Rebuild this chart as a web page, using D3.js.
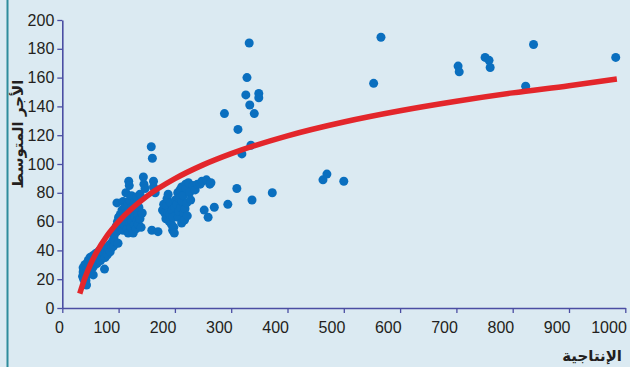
<!DOCTYPE html>
<html>
<head>
<meta charset="utf-8">
<script src="https://cdn.jsdelivr.net/npm/d3@7"></script>
<style>
  html, body { margin: 0; padding: 0; background: #dbeaf2; }
  svg { display: block; }
</style>
</head>
<body>
<svg id="chart" width="630" height="367"></svg>
<script>
// productivity vs average wage
const lowBand = [
  [36,22],[37,25],[37,28],[38,20],[39,24],[40,27],[40,30],[41,22],[42,19],[43,16],[43,25],[44,28],
  [44,31],[45,23],[46,26],[46,33],[47,29],[48,24],[48,31],[49,35],[50,27],[51,30],[52,33],[53,36],
  [54,28],[55,23],[55,31],[56,34],[57,37],[58,30],[59,33],[60,38],[61,35],[62,31],[63,36],[64,39],
  [65,34],[66,37],[67,40],[68,33],[70,36],[71,39],[72,42],[74,38],[75,27],[76,35],[77,40],[79,42],
  [80,37],[82,41],[84,44],[85,39],[87,45],[88,42],[90,47],[91,43],[92,50],[93,52],[94,46],[95,55],
  [96,57],[97,53],[98,60],[99,45],[100,58],[100,63],[97,73]
];
const midBand = [
  [102,61],[103,65],[104,56],[105,59],[106,68],[107,62],[108,54],[108,74],[109,66],[110,58],[111,70],
  [112,63],[113,60],[113,80],[114,66],[115,55],[116,72],[117,52],[117,62],[118,88],[118,67],[119,85],
  [120,59],[120,75],[121,64],[122,56],[123,70],[123,78],[124,60],[126,52],[126,66],[127,73],[128,58],
  [129,63],[130,68],[131,55],[132,77],[133,61],[134,65],[135,58],[136,70],[138,79],[138,62],[140,56],
  [142,66],[144,91],[145,86],[147,83],[159,54],[162,88],[162,84],[165,80],[170,53]
];
const highBand = [
  [178,68],[180,72],[182,66],[184,62],[185,71],[186,76],[188,79],[188,66],[190,60],[191,65],[192,73],
  [194,58],[195,68],[196,54],[197,63],[198,56],[199,52],[200,70],[201,75],[203,72],[205,80],[206,63],
  [207,67],[208,76],[209,82],[210,70],[212,84],[212,59],[213,74],[215,78],[216,66],[217,61],[218,69],
  [219,86],[220,83],[221,73],[222,64],[224,87],[226,80],[228,75],[232,85],[236,82],[240,86],
  [245,86],[248,88],[252,68],[256,89],[259,63],[262,86],[264,87],[270,70],[294,72],[310,83],
  [337,75],[373,80]
];
const outliers = [
  [158,112],[160,104],[288,135],[312,124],[319,107],[326,148],[328,160],[332,184],[333,141],
  [335,113],[341,135],[349,149],[349,146],[463,89],[470,93],[500,88],[553,156],[566,188],
  [703,168],[705,164],[751,174],[758,172],[760,167],[823,154],[837,183],[983,174]
];

// fitted trend line
const trendX = [31, 40, 50, 60, 80, 100, 150, 200, 250, 300, 400, 500, 600, 700, 800, 900, 985];
const trendY = [10, 20.7, 30.3, 38.1, 50.5, 60, 77.5, 89.8, 99.4, 107.2, 119.6, 129.2, 137, 143.6, 149.4, 154.4, 159];

const xTicks = [0, 100, 200, 300, 400, 500, 600, 700, 800, 900, 1000];
const yTicks = [0, 20, 40, 60, 80, 100, 120, 140, 160, 180, 200];

const xTitle = "الإنتاجية";
const yTitle = "الأجر المتوسط";

const axisColor = "#4b4ea3";
const dotColor = "#0a6fbf";
const trendColor = "#e3262b";
const tickFont = "'Liberation Sans Narrow', 'Liberation Sans', sans-serif";

function draw() {
    const svg = d3.select("#chart");

    svg.append("rect")
        .attr("width", 630)
        .attr("height", 367)
        .attr("fill", "#dbeaf2");

    // frame line on the left
    svg.append("line")
        .attr("x1", 7.5).attr("x2", 7.5)
        .attr("y1", 0).attr("y2", 367)
        .attr("stroke", "#2f8c9c")
        .attr("stroke-width", 2);

    const x = d3.scaleLinear().domain([0, 1000]).range([62.3, 625.3]);
    const y = d3.scaleLinear().domain([0, 200]).range([308, 20]);

    // axes
    const xAxis = svg.append("g")
        .attr("transform", "translate(0,308)")
        .call(d3.axisBottom(x).tickValues(xTicks).tickSize(5).tickSizeOuter(0).tickFormat(d3.format("d")));

    const yAxis = svg.append("g")
        .attr("transform", "translate(62.3,0)")
        .call(d3.axisLeft(y).tickValues(yTicks).tickSize(5).tickSizeOuter(0).tickFormat(d3.format("d")));

    [xAxis, yAxis].forEach(function (g) {
        g.select(".domain").attr("stroke", axisColor).attr("stroke-width", 1.6);
        g.selectAll(".tick line").attr("stroke", axisColor).attr("stroke-width", 1.3);
        g.selectAll(".tick text")
            .attr("fill", "#231f20")
            .style("font-family", tickFont)
            .style("font-size", "16px");
    });

    // x labels sit to the left of their tick
    xAxis.selectAll(".tick text")
        .attr("text-anchor", "end")
        .attr("x", 1)
        .attr("y", 14)
        .attr("dy", "0.71em");

    yAxis.selectAll(".tick text")
        .attr("x", -8);

    // points
    const allPoints = lowBand.concat(midBand, highBand, outliers);
    svg.append("g")
        .selectAll("circle")
        .data(allPoints)
        .enter()
        .append("circle")
        .attr("cx", (d) => x(d[0]))
        .attr("cy", (d) => y(d[1]))
        .attr("r", 4.5)
        .attr("fill", dotColor);

    // trend curve
    const trend = trendX.map((v, i) => [v, trendY[i]]);
    svg.append("path")
        .datum(trend)
        .attr("d", d3.line()
            .x((d) => x(d[0]))
            .y((d) => y(d[1]))
            .curve(d3.curveMonotoneX))
        .attr("fill", "none")
        .attr("stroke", trendColor)
        .attr("stroke-width", 5.5);

    // axis titles
    svg.append("text")
        .attr("transform", "translate(23,134) rotate(-90)")
        .attr("text-anchor", "middle")
        .attr("direction", "rtl")
        .style("font-family", "'DejaVu Sans', sans-serif")
        .style("font-size", "15px")
        .style("font-weight", "bold")
        .attr("fill", "#231f20")
        .text(yTitle);

    svg.append("text")
        .attr("x", 622)
        .attr("y", 361)
        .attr("text-anchor", "start")
        .attr("direction", "rtl")
        .style("font-family", "'DejaVu Sans', sans-serif")
        .style("font-size", "15px")
        .style("font-weight", "bold")
        .attr("fill", "#231f20")
        .text(xTitle);
}

draw();
</script>
</body>
</html>
